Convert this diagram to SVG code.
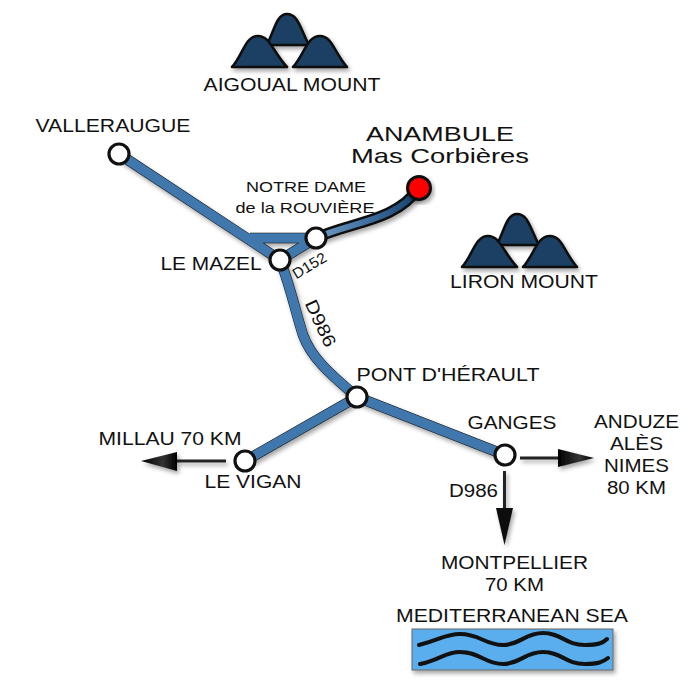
<svg xmlns="http://www.w3.org/2000/svg" xmlns:xlink="http://www.w3.org/1999/xlink" width="700" height="700" viewBox="0 0 700 700">
<style>
text{font-family:"Liberation Sans",Arial,sans-serif;fill:#111;text-anchor:middle}
.l{font-size:18px}
.s{font-size:15px}
.t{font-size:21px}
.rb{fill:none;stroke:#111;stroke-width:10.500}
.rf{fill:none;stroke:#3f78ad;stroke-width:9.500}
.n{fill:#fff;stroke:#111;stroke-width:3.200}
.ar{fill:none;stroke:#222;stroke-width:3}
.m{fill:#1d4063;stroke:#111;stroke-width:2.600;stroke-linejoin:round}
.w{fill:none;stroke:#111;stroke-width:4;stroke-linecap:round}
</style>
<defs>
<filter id="sh" x="-20%" y="-20%" width="140%" height="140%"><feDropShadow dx="2" dy="3" stdDeviation="2" flood-color="#000" flood-opacity=".35"/></filter>
<linearGradient id="hl" x1="0" y1="0" x2="1" y2="0"><stop offset="0" stop-color="#6f9cc4"/><stop offset=".5" stop-color="#3f6f9f"/><stop offset="1" stop-color="#123f6b"/></linearGradient>
<linearGradient id="ah" x1="0" y1="0" x2="1" y2="0"><stop offset="0" stop-color="#000"/><stop offset=".6" stop-color="#333"/><stop offset="1" stop-color="#000"/></linearGradient>
<g id="mt" filter="url(#sh)">
<path class="m" d="M267 45C275 28 277 14 287 14C298 14 300 28 309 45Z"/>
<path class="m" d="M232 67C243 55 245 36 258 36C270 36 273 52 287 67Z"/>
<path class="m" d="M293 67C304 55 307 36 320 36C332 36 334 52 347 67Z"/>
</g>
</defs>
<g id="connectors">
<g filter="url(#sh)">
<path class="rb" d="M119 154L280 260M250 238H316M280 260L316 238M280 260C290 285 295 310 303 335C312 360 335 378 357 397M357 397L245 461M357 397L505 455"/>
<path class="rf" d="M119 154L280 260M250 238H316M280 260L316 238M280 260C290 285 295 310 303 335C312 360 335 378 357 397M357 397L245 461M357 397L505 455"/>
<path d="M316 238C350 222 395 222 419 188" fill="none" stroke="#111" stroke-width="11"/>
<path d="M316 238C350 222 395 222 419 188" fill="none" stroke="url(#hl)" stroke-width="6"/>
</g>
<g filter="url(#sh)">
<path class="ar" d="M226 461H175"/><path d="M141 461L177 452V471Z" fill="url(#ah)"/>
<path class="ar" d="M520 458H560"/><path d="M594 458L558 449V467Z" fill="url(#ah)"/>
<path class="ar" d="M504.500 471V510"/><path d="M504.500 545L496 508H513Z" fill="#111"/>
</g>
</g>
<g id="aigoual"><use xlink:href="#mt" href="#mt"/><text class="l" x="292" y="91" textLength="177" lengthAdjust="spacingAndGlyphs">AIGOUAL MOUNT</text></g>
<g id="liron"><use xlink:href="#mt" href="#mt" transform="translate(230 200)"/><text class="l" x="524" y="288" textLength="148" lengthAdjust="spacingAndGlyphs">LIRON MOUNT</text></g>
<g id="valleraugue"><circle class="n" cx="119" cy="154" r="10"/><text class="l" x="113" y="132" textLength="155" lengthAdjust="spacingAndGlyphs">VALLERAUGUE</text></g>
<g id="anambule"><circle cx="419" cy="188" r="11.500" fill="#f00" stroke="#111" stroke-width="3" filter="url(#sh)"/><text class="t" x="440" y="141" textLength="148" lengthAdjust="spacingAndGlyphs">ANAMBULE</text><text class="t" x="440" y="163" textLength="178" lengthAdjust="spacingAndGlyphs">Mas Corbières</text></g>
<g id="notre-dame"><circle class="n" cx="316" cy="238" r="10"/><text class="s" x="306" y="192" textLength="120" lengthAdjust="spacingAndGlyphs">NOTRE DAME</text><text class="s" x="305" y="213" textLength="139" lengthAdjust="spacingAndGlyphs">de la ROUVIÈRE</text></g>
<g id="le-mazel"><circle class="n" cx="280" cy="260" r="10"/><text class="l" x="211" y="270" textLength="101" lengthAdjust="spacingAndGlyphs">LE MAZEL</text></g>
<g id="pont"><circle class="n" cx="357" cy="397" r="10"/><text class="l" x="448" y="381" textLength="183" lengthAdjust="spacingAndGlyphs">PONT D'HÉRAULT</text></g>
<g id="le-vigan"><circle class="n" cx="245" cy="461" r="10"/><text class="l" x="253" y="488" textLength="97" lengthAdjust="spacingAndGlyphs">LE VIGAN</text><text class="l" x="170" y="445" textLength="143" lengthAdjust="spacingAndGlyphs">MILLAU 70 KM</text></g>
<g id="ganges"><circle class="n" cx="505" cy="455" r="10"/><text class="l" x="512" y="429" textLength="89" lengthAdjust="spacingAndGlyphs">GANGES</text></g>
<text class="s" transform="translate(312 270) rotate(-31)" textLength="37" lengthAdjust="spacingAndGlyphs">D152</text>
<text class="l" transform="translate(315 326) rotate(65)" textLength="50" lengthAdjust="spacingAndGlyphs">D986</text>
<text class="l" x="473.500" y="497" textLength="49" lengthAdjust="spacingAndGlyphs">D986</text>
<g id="anduze"><text class="l" x="636.500" y="428" textLength="85" lengthAdjust="spacingAndGlyphs">ANDUZE</text><text class="l" x="636.500" y="450" textLength="53" lengthAdjust="spacingAndGlyphs">ALÈS</text><text class="l" x="636.500" y="472" textLength="65" lengthAdjust="spacingAndGlyphs">NIMES</text><text class="l" x="636.500" y="494" textLength="59" lengthAdjust="spacingAndGlyphs">80 KM</text></g>
<g id="montpellier"><text class="l" x="514.500" y="569" textLength="147" lengthAdjust="spacingAndGlyphs">MONTPELLIER</text><text class="l" x="514.500" y="591" textLength="59" lengthAdjust="spacingAndGlyphs">70 KM</text></g>
<g id="sea"><text class="l" x="512" y="622" textLength="232" lengthAdjust="spacingAndGlyphs">MEDITERRANEAN SEA</text>
<rect x="412" y="629" width="201" height="41" fill="#5aaeee" stroke="#666" stroke-width="1" filter="url(#sh)"/>
<path class="w" d="M419 645C440 640 445 634 460 634C480 634 485 645 503 645C520 645 525 633 543 633C562 633 565 645 585 645C598 645 603 643 607 639"/>
<path class="w" d="M420 664C440 660 445 652 460 652C480 652 485 664 503 664C520 664 525 652 543 652C562 652 565 664 585 664C598 664 603 662 608 658"/>
</g>
</svg>
